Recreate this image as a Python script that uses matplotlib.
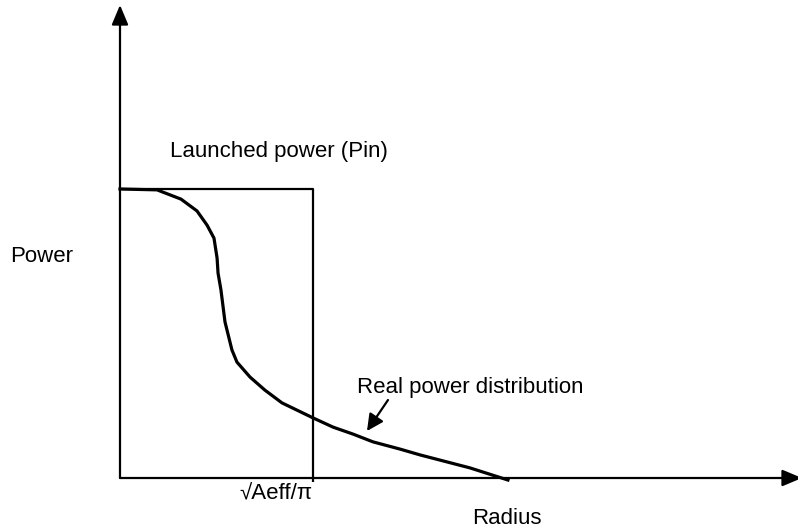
import matplotlib
matplotlib.use("Agg")
import matplotlib.pyplot as plt

# normalised radius (1 = sqrt(Aeff/pi)) and power (1 = Pin)
radius = [0.0, 0.192, 0.316, 0.399, 0.451, 0.487, 0.503, 0.508, 0.523, 0.544,
          0.580, 0.606, 0.674, 0.751, 0.839, 1.0, 1.104, 1.207, 1.311, 1.451,
          1.554, 1.813, 2.010]
power = [1.0, 0.997, 0.965, 0.924, 0.875, 0.830, 0.761, 0.709, 0.651, 0.540,
         0.443, 0.401, 0.349, 0.304, 0.260, 0.208, 0.176, 0.152, 0.125, 0.100,
         0.080, 0.035, -0.007]

launched_radius = [0.0, 1.0, 1.0]
launched_power = [1.0, 1.0, -0.015]

# pixel layout of the drawing
W, H = 798, 531
X0, Y0 = 120, 478          # origin in pixels
UX, UY = 193, 289          # pixels per unit


def px(x, y):
    """pixel position -> data coords"""
    return (x - X0) / UX, (Y0 - y) / UY


fig = plt.figure(figsize=(W / 100, H / 100), dpi=100)
ax = fig.add_axes([0, 0, 1, 1])
ax.set_xlim(px(0, 0)[0], px(W, 0)[0])
ax.set_ylim(px(0, H)[1], px(0, 0)[1])
ax.axis("off")

plt.rcParams["font.family"] = ["Liberation Sans", "DejaVu Sans"]
fs = 16

# axes with arrows
head = "-|>,head_length=1.0,head_width=0.42"
ax.annotate("", xy=px(X0, 5), xytext=px(X0, Y0), annotation_clip=False,
            arrowprops=dict(arrowstyle=head, color="k", lw=1.6,
                            shrinkA=0, shrinkB=0, mutation_scale=12))
ax.annotate("", xy=px(802, Y0), xytext=px(X0, Y0), annotation_clip=False,
            arrowprops=dict(arrowstyle=head, color="k", lw=1.6,
                            shrinkA=0, shrinkB=0, mutation_scale=12))

# launched power box
ax.plot(launched_radius, launched_power, color="k", lw=1.6,
        solid_capstyle="butt")

# real power distribution
ax.plot(radius, power, color="k", lw=2.3, solid_joinstyle="round")

# labels
ax.text(*px(10, 256), "Power", fontsize=fs, ha="left", va="center")
ax.text(*px(170, 152), "Launched power (Pin)", fontsize=fs,
        ha="left", va="center")
ax.text(*px(357, 388), "Real power distribution", fontsize=fs,
        ha="left", va="center")
ax.text(*px(276, 494), "\u221aAeff/\u03c0", fontsize=fs,
        ha="center", va="center")
ax.text(*px(507, 518), "Radius", fontsize=fs, ha="center", va="center")

ax.annotate("", xy=px(367, 431), xytext=px(388, 400),
            arrowprops=dict(arrowstyle="-|>,head_length=1.0,head_width=0.5",
                            color="k", lw=1.6, shrinkA=0, shrinkB=0,
                            mutation_scale=10))

fig.savefig("out.png", dpi=100)
